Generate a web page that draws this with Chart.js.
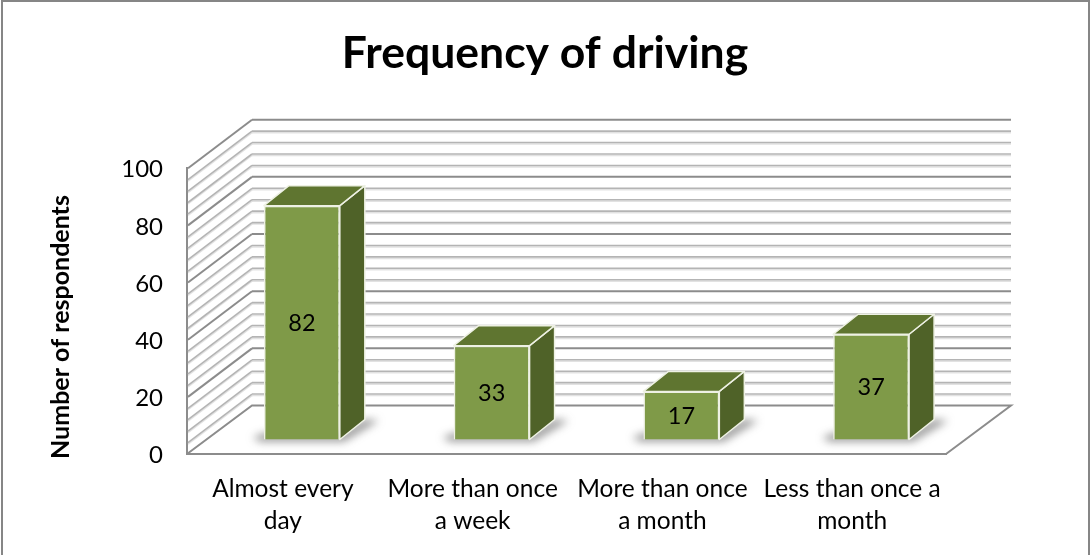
<!DOCTYPE html>
<html>
<head>
<meta charset="utf-8">
<title>Frequency of driving</title>
<script src="https://cdn.jsdelivr.net/npm/chart.js@4"></script>
<style>
  html, body { margin: 0; background: #fff; }
  canvas { display: block; }
</style>
</head>
<body>
<canvas id="drivingChart" width="1090" height="555"></canvas>
<script>
const categories = [
  ['Almost every', 'day'],
  ['More than once', 'a week'],
  ['More than once', 'a month'],
  ['Less than once a', 'month']
];
const respondents = [82, 33, 17, 37];
const yMax = 100;
const yStep = 20;
const yGridStep = 4;

const FONT = 'Lato, "Open Sans", sans-serif';

// 3D look: how far the back wall and the bars sit behind the axis plane
const wallDepth = { x: 65, y: -48.5 };
const barShift = { x: 20, y: -14 };
const barDepth = { x: 25, y: -20 };

const colors = {
  frame: '#868686',
  major: '#8c8c8c',
  minor: '#b4b4b4',
  front: '#7f9a48',
  top: '#5f7530',
  side: '#4f6228',
  edge: '#eef1e4'
};

function poly(ctx, pts) {
  ctx.beginPath();
  pts.forEach((p, i) => i ? ctx.lineTo(p[0], p[1]) : ctx.moveTo(p[0], p[1]));
  ctx.closePath();
}

function line(ctx, x1, y1, x2, y2) {
  ctx.beginPath();
  ctx.moveTo(x1, y1);
  ctx.lineTo(x2, y2);
  ctx.stroke();
}

// Back wall, side wall and floor lines
function drawWalls(ctx, chart) {
  const { left, right } = chart.chartArea;
  const y = chart.scales.y;
  const bx = left + wallDepth.x;
  const floorY = y.getPixelForValue(0);

  for (let v = yGridStep; v <= yMax; v += yGridStep) {
    const major = v % yStep === 0;
    const py = y.getPixelForValue(v);
    if (!major) {
      ctx.strokeStyle = 'rgba(190,190,190,0.45)';
      ctx.lineWidth = 1.5;
      line(ctx, left + 1, py + 1.5, bx, py + wallDepth.y + 1.5);
      line(ctx, bx, py + wallDepth.y + 1.5, right + wallDepth.x, py + wallDepth.y + 1.5);
    }
    ctx.strokeStyle = major ? colors.major : colors.minor;
    ctx.lineWidth = major ? 2 : 1.6;
    line(ctx, left + 1, py, bx, py + wallDepth.y);
    line(ctx, bx, py + wallDepth.y, right + wallDepth.x, py + wallDepth.y);
  }

  ctx.strokeStyle = colors.major;
  ctx.lineWidth = 2;
  ctx.beginPath();
  ctx.moveTo(left, floorY);
  ctx.lineTo(bx, floorY + wallDepth.y);
  ctx.lineTo(right + wallDepth.x, floorY + wallDepth.y);
  ctx.lineTo(right, floorY);
  ctx.stroke();
}

// Soft shadow each bar throws on the floor
function drawShadow(ctx, x0, x1, base) {
  ctx.save();
  ctx.filter = 'blur(4px)';
  ctx.fillStyle = 'rgba(80,80,80,0.6)';
  poly(ctx, [
    [x0 - 11, base - 2], [x0, base - 6], [x1, base - 6],
    [x1 + barDepth.x, base + barDepth.y], [x1 + barDepth.x + 14, base + barDepth.y + 1],
    [x1 + 4, base + 2], [x0 - 4, base + 2]
  ]);
  ctx.fill();
  ctx.restore();
}

function drawBarSides(ctx, chart) {
  chart.getDatasetMeta(0).data.forEach(bar => {
    const half = bar.width / 2;
    const x0 = bar.x - half + barShift.x;
    const x1 = bar.x + half + barShift.x;
    const top = bar.y + barShift.y;
    const base = bar.base + barShift.y;
    const dx = barDepth.x;
    const dy = barDepth.y;

    drawShadow(ctx, x0, x1, base);

    ctx.lineWidth = 1.5;
    ctx.lineJoin = 'round';
    ctx.strokeStyle = colors.edge;
    ctx.fillStyle = colors.side;
    poly(ctx, [[x1, top], [x1 + dx, top + dy], [x1 + dx, base + dy], [x1, base]]);
    ctx.fill();
    ctx.stroke();
    ctx.fillStyle = colors.top;
    poly(ctx, [[x0, top], [x0 + dx, top + dy], [x1 + dx, top + dy], [x1, top]]);
    ctx.fill();
    ctx.stroke();
  });
}

const bars3d = {
  id: 'bars3d',
  beforeDraw(chart) {
    const ctx = chart.ctx;
    const w = chart.width;
    ctx.save();
    ctx.fillStyle = '#fff';
    ctx.fillRect(0, 0, w, chart.height);
    ctx.strokeStyle = colors.frame;
    ctx.lineWidth = 2;
    ctx.beginPath();
    ctx.moveTo(2, chart.height);
    ctx.lineTo(2, 1);
    ctx.lineTo(w - 1, 1);
    ctx.lineTo(w - 1, chart.height);
    ctx.stroke();
    ctx.restore();
  },
  beforeDatasetsDraw(chart) {
    const ctx = chart.ctx;
    ctx.save();
    drawWalls(ctx, chart);
    drawBarSides(ctx, chart);
    ctx.restore();
  },
  // front faces are the chart's own bars, pushed back off the axis plane
  beforeDatasetDraw(chart) {
    chart.ctx.save();
    chart.ctx.translate(barShift.x, barShift.y);
  },
  afterDatasetDraw(chart) {
    chart.ctx.restore();
  },
  afterDatasetsDraw(chart) {
    const ctx = chart.ctx;
    ctx.save();
    ctx.fillStyle = '#000';
    ctx.font = '23.5px ' + FONT;
    ctx.textAlign = 'center';
    ctx.textBaseline = 'middle';
    chart.getDatasetMeta(0).data.forEach((bar, i) => {
      const mid = (bar.y + bar.base) / 2 + barShift.y;
      ctx.fillText(String(respondents[i]), bar.x + barShift.x, mid + 1);
    });

    // y axis title sits a little below the middle of the scale
    ctx.font = 'bold 25px ' + FONT;
    ctx.translate(61, 327);
    ctx.rotate(-Math.PI / 2);
    ctx.fillText('Number of respondents', 0, 0);
    ctx.restore();
  }
};

new Chart(document.getElementById('drivingChart'), {
  type: 'bar',
  data: {
    labels: categories,
    datasets: [{
      data: respondents,
      backgroundColor: colors.front,
      borderColor: colors.edge,
      borderWidth: 1.5,
      categoryPercentage: 1,
      barPercentage: 0.4,
      clip: false
    }]
  },
  plugins: [bars3d],
  options: {
    responsive: false,
    animation: false,
    plugins: {
      legend: { display: false },
      tooltip: { enabled: false },
      title: {
        display: true,
        text: 'Frequency of driving',
        color: '#000',
        font: { family: FONT, size: 44.5, weight: 'bold', lineHeight: 1.2 },
        padding: { top: 27, bottom: 87.8 }
      }
    },
    scales: {
      x: {
        afterFit: s => { s.height = 101; },
        grid: { display: true, drawOnChartArea: false, drawTicks: false, color: 'transparent' },
        border: { color: colors.major, width: 2 },
        ticks: {
          color: '#000',
          padding: 19,
          labelOffset: 1,
          maxRotation: 0,
          autoSkip: false,
          font: { family: FONT, size: 24.5, lineHeight: 1.31 }
        }
      },
      y: {
        min: 0,
        max: yMax,
        afterFit: s => { s.width = 187; },
        grid: { display: true, drawOnChartArea: false, drawTicks: false, color: 'transparent' },
        border: { color: colors.major, width: 2 },
        ticks: {
          stepSize: yStep,
          color: '#000',
          padding: 24,
          labelOffset: 1.5,
          font: { family: FONT, size: 24 }
        }
      },
      // empty axis holding the space right of the floor, so the title stays centred on the page
      rightGap: {
        position: 'right',
        afterFit: s => { s.width = 144; },
        grid: { display: false },
        border: { display: false },
        ticks: { display: false }
      }
    }
  }
});
</script>
</body>
</html>
